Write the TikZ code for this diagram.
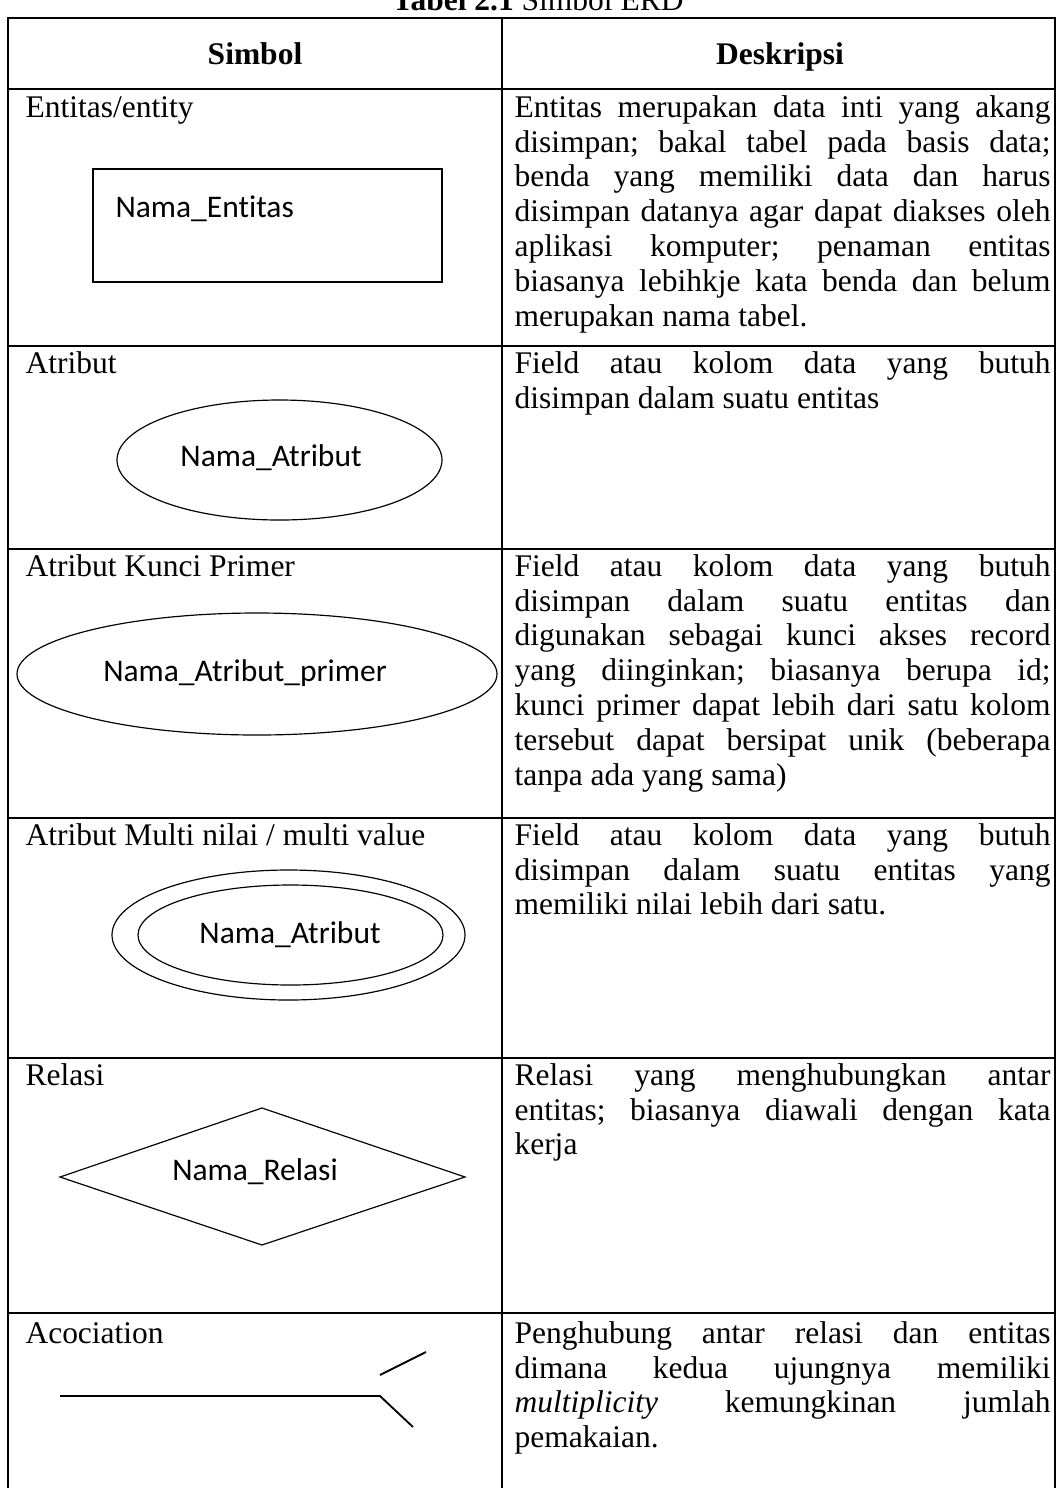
\documentclass[tikz,border=0pt]{standalone}
\usepackage{fontspec}
\setmainfont{Liberation Serif}
\newfontfamily\shapefont[Ligatures=NoCommon]{Carlito}
\usetikzlibrary{shapes.geometric}

\newlength\descw
\setlength\descw{204.2pt}
\newcommand\pxunit{0.381pt}
% one justified line, and the closing (ragged) line of a paragraph
\newcommand\jline[1]{\hbox to \descw{#1}}
\newcommand\lline[1]{\hbox to \descw{#1\hfil}}
\newcommand\desc[1]{\begin{minipage}[t]{\descw}\frenchspacing\hbadness=10000\baselineskip=13.33pt #1\end{minipage}}

\begin{document}
\begin{tikzpicture}[x=0.381pt, y=-0.381pt,
  font=\fontsize{12}{13.33}\selectfont,
  rule/.style={line width=0.76pt, line cap=rect},
  symline/.style={line width=0.45pt},
  assocline/.style={line width=0.7pt},
  title/.style={anchor=base west, inner sep=0pt},
  symtext/.style={anchor=base, inner sep=0pt, font=\fontsize{12}{14}\shapefont},
  descr/.style={anchor=base west, inner sep=0pt}]
\useasboundingbox (0,0) rectangle (1057,1488);

% caption above the table
\node[anchor=base, inner sep=0pt] (caption) at (538,10) {\textbf{Tabel 2.1} Simbol ERD};

% table grid
\coordinate (topL) at (8,18);    \coordinate (topM) at (502,18);   \coordinate (topR) at (1055,18);
\coordinate (botL) at (8,1500);  \coordinate (botM) at (502,1500); \coordinate (botR) at (1055,1500);
\coordinate (h1L) at (8,89);    \coordinate (h1R) at (1055,89);
\coordinate (h2L) at (8,346);   \coordinate (h2R) at (1055,346);
\coordinate (h3L) at (8,549);   \coordinate (h3R) at (1055,549);
\coordinate (h4L) at (8,818);   \coordinate (h4R) at (1055,818);
\coordinate (h5L) at (8,1058);  \coordinate (h5R) at (1055,1058);
\coordinate (h6L) at (8,1313);  \coordinate (h6R) at (1055,1313);
\draw[rule] (topL) -- (topR);
\foreach \r in {1,...,6} \draw[rule] (h\r L) -- (h\r R);
\draw[rule] (topL) -- (botL);
\draw[rule] (topM) -- (botM);
\draw[rule] (topR) -- (botR);

% header
\node[anchor=base, inner sep=0pt] (hsym) at (255,64) {\bfseries Simbol};
\node[anchor=base, inner sep=0pt] (hdesc) at (780,64) {\bfseries Deskripsi};

% row 1: entity
\node[title] (t1) at (25,117) {Entitas/entity};
\node[draw, symline, rectangle, inner sep=0pt, minimum width=349*\pxunit, minimum height=113*\pxunit] (entbox) at (267.5,225.5) {};
\node[symtext, anchor=base west] (entname) at (115,217) {Nama\_Entitas};
\node[descr] (d1) at (514,117) {\desc{%
\jline{Entitas merupakan data inti yang akang}
\jline{disimpan; bakal tabel pada basis data;}
\jline{benda yang memiliki data dan harus}
\jline{disimpan datanya agar dapat diakses oleh}
\jline{aplikasi komputer; penaman entitas}
\jline{biasanya lebihkje kata benda dan belum}
\lline{merupakan nama tabel.}}};

% row 2: attribute
\node[title] (t2) at (25,373) {Atribut};
\node[draw, symline, ellipse, inner sep=0pt, minimum width=325*\pxunit, minimum height=120*\pxunit] (attr) at (279.5,460) {};
\node[symtext] (attrname) at (271,466) {Nama\_Atribut};
\node[descr] (d2) at (514,373) {\desc{%
\jline{Field atau kolom data yang butuh}
\lline{disimpan dalam suatu entitas}}};

% row 3: primary key attribute
\node[title] (t3) at (25,576) {Atribut Kunci Primer};
\node[draw, symline, ellipse, inner sep=0pt, minimum width=480*\pxunit, minimum height=122*\pxunit] (pkey) at (257,674) {};
\node[symtext] (pkeyname) at (245,681) {Nama\_Atribut\_primer};
\node[descr] (d3) at (514,576) {\desc{%
\jline{Field atau kolom data yang butuh}
\jline{disimpan dalam suatu entitas dan}
\jline{digunakan sebagai kunci akses record}
\jline{yang diinginkan; biasanya berupa id;}
\jline{kunci primer dapat lebih dari satu kolom}
\jline{tersebut dapat bersipat unik (beberapa}
\lline{tanpa ada yang sama)}}};

% row 4: multivalued attribute
\node[title] (t4) at (25,845) {Atribut Multi nilai / multi value};
\node[draw, symline, ellipse, inner sep=0pt, minimum width=353*\pxunit, minimum height=130*\pxunit] (multiout) at (288.5,935) {};
\node[draw, symline, ellipse, inner sep=0pt, minimum width=305*\pxunit, minimum height=100*\pxunit] (multiin) at (290.5,935) {};
\node[symtext] (multiname) at (290,943) {Nama\_Atribut};
\node[descr] (d4) at (514,845) {\desc{%
\jline{Field atau kolom data yang butuh}
\jline{disimpan dalam suatu entitas yang}
\lline{memiliki nilai lebih dari satu.}}};

% row 5: relationship
\node[title] (t5) at (25,1085) {Relasi};
\coordinate (relL) at (60,1177);
\coordinate (relT) at (262,1108);
\coordinate (relR) at (465,1177);
\coordinate (relB) at (262,1245);
\draw[symline] (relL) -- (relT) -- (relR) -- (relB) -- cycle;
\node[symtext] (relname) at (255,1180) {Nama\_Relasi};
\node[descr] (d5) at (514,1085) {\desc{%
\jline{Relasi yang menghubungkan antar}
\jline{entitas; biasanya diawali dengan kata}
\lline{kerja}}};

% row 6: association
\node[title] (t6) at (25,1343) {Acociation};
\coordinate (aStart) at (60,1396);
\coordinate (aFork) at (380,1396);
\coordinate (aUpS) at (380,1375);
\coordinate (aUpE) at (426,1352);
\coordinate (aDownE) at (413,1427);
\draw[assocline] (aStart) -- (aFork) -- (aDownE);
\draw[assocline] (aUpS) -- (aUpE);
\node[descr] (d6) at (514,1343) {\desc{%
\jline{Penghubung antar relasi dan entitas}
\jline{dimana kedua ujungnya memiliki}
\jline{\textit{multiplicity} kemungkinan jumlah}
\lline{pemakaian.}}};
\end{tikzpicture}
\end{document}
